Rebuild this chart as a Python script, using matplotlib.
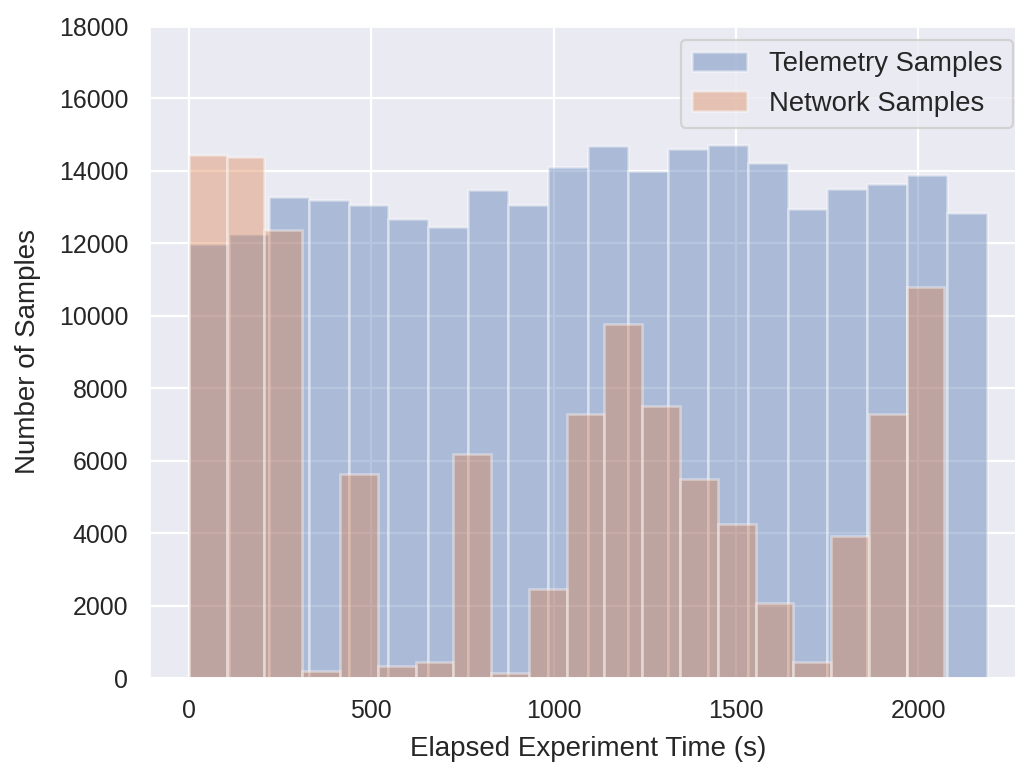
import numpy as np
import matplotlib
matplotlib.use("Agg")
import matplotlib.pyplot as plt
import seaborn as sns

# Data (counts per bin)
telemetry_counts = [11980, 12260, 13290, 13190, 13050, 12670, 12450, 13480, 13050, 14110,
                    14680, 14010, 14605, 14715, 14230, 12960, 13500, 13640, 13880, 12845]
network_counts = [14440, 14395, 12370, 185, 5620, 340, 430, 6190, 150, 2460,
                  7290, 9775, 7510, 5500, 4255, 2075, 440, 3930, 7290, 10795]
telemetry_range = (0, 2189)
network_range = (0, 2072)
n_bins = 20
series_labels = ["Telemetry Samples", "Network Samples"]
x_label = "Elapsed Experiment Time (s)"
y_label = "Number of Samples"

sns.set_theme(style="darkgrid")
plt.rcParams['font.family'] = ['Liberation Sans', 'DejaVu Sans']

dpi = 158.6
fig = plt.figure(figsize=(1015 / dpi, 764 / dpi), dpi=dpi)
ax = fig.add_axes([149 / 1015, (764 - 678) / 764, (1027 - 149) / 1015, (678 - 26) / 764])

t_edges = np.linspace(telemetry_range[0], telemetry_range[1], n_bins + 1)
n_edges = np.linspace(network_range[0], network_range[1], n_bins + 1)
t_centers = (t_edges[:-1] + t_edges[1:]) / 2
n_centers = (n_edges[:-1] + n_edges[1:]) / 2

ax.hist(t_centers, bins=t_edges, weights=telemetry_counts, alpha=0.4,
        color="#4C72B0", edgecolor="white", linewidth=1.2, label=series_labels[0])
ax.hist(n_centers, bins=n_edges, weights=network_counts, alpha=0.4,
        color="#DD8452", edgecolor="white", linewidth=1.2, label=series_labels[1])

ax.set_ylim(0, 18000)
ax.set_yticks(np.arange(0, 18001, 2000))
ax.set_xticks([0, 500, 1000, 1500, 2000])
ax.tick_params(labelsize=11.3)
ax.set_xlabel(x_label, fontsize=12.6, labelpad=6)
ax.set_ylabel(y_label, fontsize=12.6, labelpad=8)
ax.legend(loc="upper right", fontsize=12.5)

fig.savefig("out.png", dpi=dpi)
